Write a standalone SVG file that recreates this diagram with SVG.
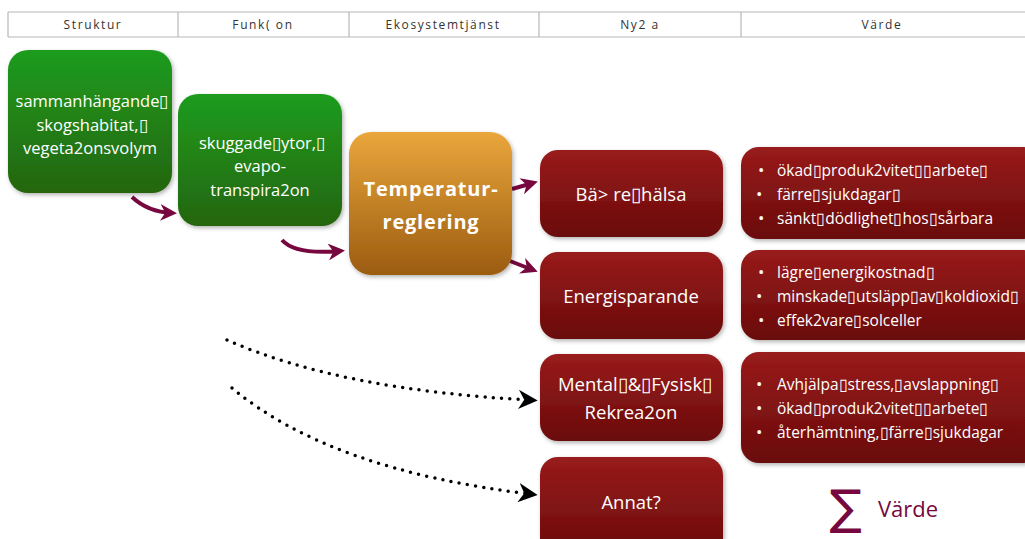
<svg xmlns="http://www.w3.org/2000/svg" width="1025" height="539" viewBox="0 0 1025 539">
<style>
.hdr{font-family:"Open Sans","Liberation Sans",sans-serif;font-size:12px;fill:#333;letter-spacing:1.6px;text-anchor:middle}
.hl{stroke:#b8b8b8;stroke-width:1.2;fill:none}
.t{font-family:"Open Sans","Liberation Sans",sans-serif;fill:#fff;text-anchor:middle}
.b{font-family:"Open Sans","Liberation Sans",sans-serif;fill:#fff;font-size:15.5px}
.bu{font-size:17px}
.tb{font-family:"Open Sans","Liberation Sans",sans-serif;fill:#fff;text-anchor:middle;font-weight:bold;font-size:20px;letter-spacing:0.8px}
.arr{stroke:#76083f;stroke-width:4;fill:none;marker-end:url(#ah)}
.dot{stroke:#000;stroke-width:3.5;fill:none;stroke-dasharray:0 8.3;stroke-linecap:round;marker-end:url(#bh)}
</style>
<defs>
<linearGradient id="gG" x1="0" y1="0" x2="0" y2="1"><stop offset="0" stop-color="#1e9c1e"/><stop offset="1" stop-color="#25650f"/></linearGradient>
<linearGradient id="gO" x1="0" y1="0" x2="0" y2="1"><stop offset="0" stop-color="#eaa63c"/><stop offset="1" stop-color="#9b5c10"/></linearGradient>
<linearGradient id="gR" x1="0" y1="0" x2="0" y2="1"><stop offset="0" stop-color="#991b1b"/><stop offset="1" stop-color="#6a0b0b"/></linearGradient>
<filter id="sh" x="-10%" y="-10%" width="130%" height="130%"><feDropShadow dx="1.5" dy="2" stdDeviation="2" flood-color="#000" flood-opacity="0.3"/></filter>
<marker id="ah" viewBox="0 0 10 10" refX="7" refY="5" markerWidth="4.2" markerHeight="4.2" orient="auto" markerUnits="strokeWidth"><path d="M0,0 L10,5 L0,10 L3,5 Z" fill="#76083f"/></marker>
<marker id="bh" viewBox="0 0 10 10" refX="6" refY="5" markerWidth="5.5" markerHeight="5.5" orient="auto" markerUnits="strokeWidth"><path d="M0,0 L10,5 L0,10 L3,5 Z" fill="#000"/></marker>
</defs>
<g id="header">
<line class="hl" x1="8" y1="12" x2="1025" y2="12"/>
<line class="hl" x1="8" y1="37" x2="1025" y2="37"/>
<line class="hl" x1="8" y1="12" x2="8" y2="37"/>
<line class="hl" x1="178" y1="12" x2="178" y2="37"/>
<line class="hl" x1="349" y1="12" x2="349" y2="37"/>
<line class="hl" x1="539" y1="12" x2="539" y2="37"/>
<line class="hl" x1="741" y1="12" x2="741" y2="37"/>
<text class="hdr" x="93" y="29">Struktur</text>
<text class="hdr" x="263" y="29">Funk( on</text>
<text class="hdr" x="443" y="29">Ekosystemtjänst</text>
<text class="hdr" x="640" y="29">Ny2 a</text>
<text class="hdr" x="882" y="29">Värde</text>
</g>
<g id="connectors">
<path class="arr" d="M132,197 Q148,212 172,213"/>
<path class="arr" d="M282,240 Q295,255 340,251"/>
<path class="arr" d="M512,189 L533,183"/>
<path class="arr" d="M510,261 L533,270"/>
<path class="dot" d="M227,340 Q340,390 530,400"/>
<path class="dot" d="M232,388 Q330,470 530,494"/>
</g>
<g id="n-struktur">
<rect x="8" y="50" width="164" height="143" rx="20" fill="url(#gG)" filter="url(#sh)"/>
<text class="t" font-size="16.5"><tspan x="92" y="107">sammanhängande▯</tspan><tspan x="92" y="131">skogshabitat,▯</tspan><tspan x="90" y="154">vegeta2onsvolym</tspan></text>
</g>
<g id="n-funktion">
<rect x="178" y="94" width="164" height="132" rx="20" fill="url(#gG)" filter="url(#sh)"/>
<text class="t" font-size="16.5"><tspan x="262" y="149">skuggade▯ytor,▯</tspan><tspan x="260" y="172">evapo-</tspan><tspan x="260" y="196">transpira2on</tspan></text>
</g>
<g id="n-temp">
<rect x="349" y="132" width="163" height="143" rx="22" fill="url(#gO)" filter="url(#sh)"/>
<text class="tb"><tspan x="431" y="196">Temperatur-</tspan><tspan x="431" y="229">reglering</tspan></text>
</g>
<g id="n-halsa">
<rect x="540" y="150" width="183" height="87" rx="18" fill="url(#gR)" filter="url(#sh)"/>
<text class="t" font-size="18.5" x="631" y="201">Bä&gt; re▯hälsa</text>
</g>
<g id="n-energi">
<rect x="540" y="252" width="183" height="87" rx="18" fill="url(#gR)" filter="url(#sh)"/>
<text class="t" font-size="18.5" x="631" y="303">Energisparande</text>
</g>
<g id="n-rekreation">
<rect x="540" y="354" width="183" height="87" rx="18" fill="url(#gR)" filter="url(#sh)"/>
<text class="t" font-size="18.5"><tspan x="635" y="391">Mental▯&amp;▯Fysisk▯</tspan><tspan x="631" y="419">Rekrea2on</tspan></text>
</g>
<g id="n-annat">
<rect x="540" y="457" width="183" height="100" rx="18" fill="url(#gR)" filter="url(#sh)"/>
<text class="t" font-size="18.5" x="631" y="509">Annat?</text>
</g>
<g id="v-halsa">
<rect x="741" y="147" width="300" height="92" rx="18" fill="url(#gR)" filter="url(#sh)"/>
<text class="b bu" x="758" y="176">•</text><text class="b" x="777" y="176">ökad▯produk2vitet▯▯arbete▯</text>
<text class="b bu" x="756" y="200">•</text><text class="b" x="777" y="200">färre▯sjukdagar▯</text>
<text class="b bu" x="758" y="224">•</text><text class="b" x="777" y="224">sänkt▯dödlighet▯hos▯sårbara</text>
</g>
<g id="v-energi">
<rect x="741" y="250" width="300" height="90" rx="18" fill="url(#gR)" filter="url(#sh)"/>
<text class="b bu" x="758" y="278">•</text><text class="b" x="777" y="278">lägre▯energikostnad▯</text>
<text class="b bu" x="756" y="302">•</text><text class="b" x="777" y="302">minskade▯utsläpp▯av▯koldioxid▯</text>
<text class="b bu" x="758" y="326">•</text><text class="b" x="777" y="326">effek2vare▯solceller</text>
</g>
<g id="v-rekreation">
<rect x="741" y="352" width="300" height="111" rx="18" fill="url(#gR)" filter="url(#sh)"/>
<text class="b bu" x="756" y="390">•</text><text class="b" x="777" y="390">Avhjälpa▯stress,▯avslappning▯</text>
<text class="b bu" x="756" y="414">•</text><text class="b" x="777" y="414">ökad▯produk2vitet▯▯arbete▯</text>
<text class="b bu" x="756" y="438">•</text><text class="b" x="777" y="438">återhämtning,▯färre▯sjukdagar</text>
</g>
<g id="summa">
<text x="846" y="524" font-family="'DejaVu Sans',sans-serif" font-size="48" fill="#76083f" text-anchor="middle">∑</text>
<text x="878" y="517" font-family="'Open Sans','Liberation Sans',sans-serif" font-size="22" fill="#76083f">Värde</text>
</g>
</svg>
